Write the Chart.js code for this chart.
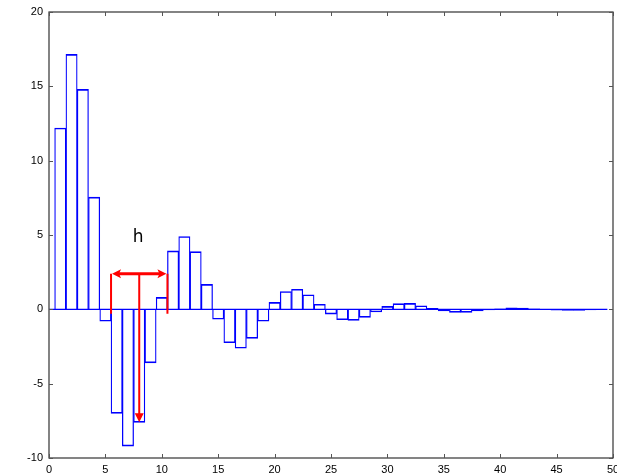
<!DOCTYPE html>
<html>
<head>
<meta charset="utf-8">
<script src="https://cdn.jsdelivr.net/npm/chart.js@4/dist/chart.umd.min.js"></script>
<style>
  html, body { margin: 0; padding: 0; background: #fff; }
  #wrap { width: 617px; height: 474px; }
</style>
</head>
<body>
<div id="wrap"><canvas id="acf" width="617" height="474"></canvas></div>
<script>
// lag index and response value for each bar
const lags = [1, 2, 3, 4, 5, 6, 7, 8, 9, 10, 11, 12, 13, 14, 15, 16, 17, 18, 19, 20,
              21, 22, 23, 24, 25, 26, 27, 28, 29, 30, 31, 32, 33, 34, 35, 36, 37, 38, 39, 40,
              41, 42, 43, 44, 45, 46, 47, 48, 49];
const values = [12.2, 17.15, 14.8, 7.55, -0.8, -7.0, -9.2, -7.6, -3.6, 0.8,
                3.93, 4.9, 3.88, 1.68, -0.67, -2.25, -2.62, -1.95, -0.8, 0.47,
                1.2, 1.35, 0.98, 0.34, -0.32, -0.7, -0.74, -0.54, -0.18, 0.2,
                0.38, 0.4, 0.24, 0.07, -0.11, -0.2, -0.2, -0.11, -0.04, 0.04,
                0.1, 0.08, 0.03, 0.0, -0.05, -0.08, -0.07, -0.04, 0.0];

// axis ranges / ticks
const xTicks = [0, 5, 10, 15, 20, 25, 30, 35, 40, 45, 50];
const yTicks = [-10, -5, 0, 5, 10, 15, 20];

// red annotation: period span "h" and drop arrow
const spanX = [5.5, 10.5];
const spanY = 2.4;
const spanFoot = -0.3;
const dropX = 8;
const dropTo = -7.6;
const hLabel = { x: 7.9, y: 4.8, text: 'h' };

const barData = lags.map((l, i) => ({ x: l, y: values[i] }));
const baseLine = [{ x: 0, y: 0 }, { x: lags[lags.length - 1] + 0.5, y: 0 }];

/* ===========================================================
   FRAME + INWARD TICKS + ANNOTATION
=========================================================== */

const framePlugin = {
    id: 'frame',
    afterDatasetsDraw(chart) {
        const { ctx, chartArea: a, scales: { x, y } } = chart;
        ctx.save();
        ctx.strokeStyle = '#333';
        ctx.lineWidth = 1.2;
        ctx.strokeRect(a.left, a.top, a.right - a.left, a.bottom - a.top);

        ctx.lineWidth = 1;
        ctx.strokeStyle = '#555';
        ctx.beginPath();
        xTicks.forEach(t => {
            const px = Math.round(x.getPixelForValue(t)) + 0.5;
            ctx.moveTo(px, a.bottom); ctx.lineTo(px, a.bottom - 4);
            ctx.moveTo(px, a.top); ctx.lineTo(px, a.top + 4);
        });
        yTicks.forEach(t => {
            const py = Math.round(y.getPixelForValue(t)) + 0.5;
            ctx.moveTo(a.left, py); ctx.lineTo(a.left + 4, py);
            ctx.moveTo(a.right, py); ctx.lineTo(a.right - 4, py);
        });
        ctx.stroke();

        // red annotation
        const x0 = x.getPixelForValue(spanX[0]);
        const x1 = x.getPixelForValue(spanX[1]);
        const ys = y.getPixelForValue(spanY);
        const yf = y.getPixelForValue(spanFoot);
        const xd = x.getPixelForValue(dropX);
        const yd = y.getPixelForValue(dropTo);
        ctx.strokeStyle = '#ff0000';
        ctx.fillStyle = '#ff0000';
        ctx.lineWidth = 2;
        ctx.beginPath();
        ctx.moveTo(x0, ys); ctx.lineTo(x0, yf);
        ctx.moveTo(x1, ys); ctx.lineTo(x1, yf);
        ctx.moveTo(xd, ys); ctx.lineTo(xd, yd - 8);
        ctx.stroke();
        ctx.lineWidth = 3;
        ctx.beginPath();
        ctx.moveTo(x0 + 6, ys); ctx.lineTo(x1 - 6, ys);
        ctx.stroke();
        // arrow heads
        ctx.beginPath();
        ctx.moveTo(x0 + 1, ys); ctx.lineTo(x0 + 10, ys - 4.5); ctx.lineTo(x0 + 8, ys); ctx.lineTo(x0 + 10, ys + 4.5);
        ctx.closePath();
        ctx.moveTo(x1 - 1, ys); ctx.lineTo(x1 - 10, ys - 4.5); ctx.lineTo(x1 - 8, ys); ctx.lineTo(x1 - 10, ys + 4.5);
        ctx.closePath();
        ctx.moveTo(xd, yd); ctx.lineTo(xd - 4.5, yd - 9); ctx.lineTo(xd + 4.5, yd - 9);
        ctx.closePath();
        ctx.fill();

        ctx.fillStyle = '#000';
        ctx.font = '17px "DejaVu Sans", sans-serif';
        ctx.textAlign = 'center';
        ctx.textBaseline = 'middle';
        ctx.fillText(hLabel.text, x.getPixelForValue(hLabel.x), y.getPixelForValue(hLabel.y));
        ctx.restore();
    }
};

const tickFont = { family: '"Liberation Sans", Arial, sans-serif', size: 11 };

new Chart(document.getElementById('acf').getContext('2d'), {
    data: {
        datasets: [{
            type: 'bar',
            data: barData,
            backgroundColor: 'rgba(0,0,0,0)',
            borderColor: '#0000ff',
            borderWidth: { left: 0.6, right: 0.6, top: 1, bottom: 1 },
            barPercentage: 1,
            categoryPercentage: 1,
            grouped: false,
            order: 2
        }, {
            type: 'line',
            data: baseLine,
            borderColor: '#0000ff',
            borderWidth: 1.2,
            pointRadius: 0,
            order: 1
        }]
    },
    options: {
        responsive: false,
        animation: false,
        layout: { padding: { top: 12, right: 4, left: 0, bottom: 0 } },
        plugins: { legend: { display: false }, tooltip: { enabled: false } },
        scales: {
            x: {
                type: 'linear',
                min: 0, max: 50,
                offset: false,
                afterBuildTicks: s => { s.ticks = xTicks.map(v => ({ value: v })); },
                afterFit: s => { s.height = 16; s.paddingLeft = 0; s.paddingRight = 0; },
                grid: { display: false, drawTicks: false, offset: false },
                border: { display: false },
                ticks: { color: '#000', font: tickFont, padding: 5, maxRotation: 0, autoSkip: false }
            },
            y: {
                type: 'linear',
                min: -10, max: 20,
                afterBuildTicks: s => { s.ticks = yTicks.map(v => ({ value: v })); },
                afterFit: s => { s.width = 49; s.paddingTop = 0; s.paddingBottom = 0; },
                grid: { display: false, drawTicks: false },
                border: { display: false },
                ticks: { color: '#000', font: tickFont, padding: 6 }
            }
        }
    },
    plugins: [framePlugin]
});
</script>
</body>
</html>
